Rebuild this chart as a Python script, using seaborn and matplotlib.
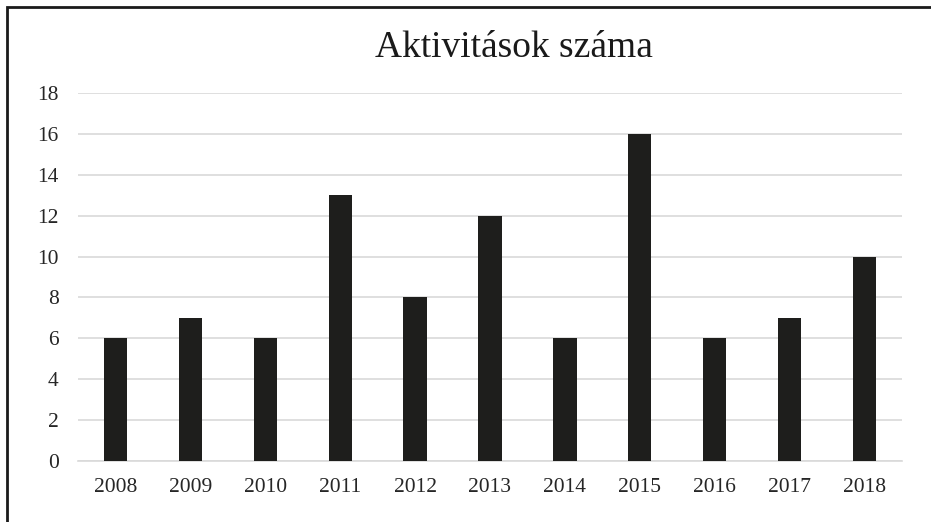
import matplotlib
matplotlib.use("Agg")
import matplotlib.pyplot as plt
import seaborn as sns
import pandas as pd
from matplotlib.patches import Rectangle


# -------------------------
# DATA
# -------------------------
years = ["2008", "2009", "2010", "2011", "2012", "2013",
         "2014", "2015", "2016", "2017", "2018"]
counts = [6, 7, 6, 13, 8, 12, 6, 16, 6, 7, 10]
y_ticks = [0, 2, 4, 6, 8, 10, 12, 14, 16, 18]
title = "Aktivitások száma"


# -------------------------
# PLOT
# -------------------------
def plot_activities():
    df = pd.DataFrame({"year": years, "count": counts})

    sns.set_style("white")
    plt.rcParams["font.family"] = ["Liberation Serif", "DejaVu Serif"]

    fig = plt.figure(figsize=(9.31, 5.22), dpi=100)
    ax = fig.add_axes([78 / 931, 1 - 461 / 522, 824 / 931, 368 / 522])

    sns.barplot(x="year", y="count", data=df, color="#1e1e1c",
                width=0.31, saturation=1, linewidth=0, ax=ax, zorder=3)

    ax.set_ylim(0, 18)
    ax.set_yticks(y_ticks)
    ax.set_xlim(-0.5, len(years) - 0.5)
    ax.yaxis.grid(True, color="#d9d9d9", linewidth=1.2, zorder=0)
    ax.set_axisbelow(True)
    for side in ["top", "right", "left"]:
        ax.spines[side].set_visible(False)
    ax.spines["bottom"].set_color("#d9d9d9")
    ax.spines["bottom"].set_linewidth(1.2)
    ax.tick_params(axis="both", length=0, labelsize=15.5, colors="#262626")
    ax.tick_params(axis="y", pad=14)
    ax.tick_params(axis="x", pad=12)
    ax.set_xlabel("")
    ax.set_ylabel("")

    fig.text(514 / 931, 1 - 48 / 522, title, ha="center", va="center",
             fontsize=27, color="#1a1a1a")

    # outer frame (only top and left edges are visible)
    fig.patches.append(Rectangle((7 / 931, -0.1), 1.2, 1 - 7 / 522 + 0.1,
                                 transform=fig.transFigure, fill=False,
                                 edgecolor="#1a1a1a", linewidth=2))

    fig.savefig("out.png", dpi=100)


if __name__ == "__main__":
    plot_activities()
